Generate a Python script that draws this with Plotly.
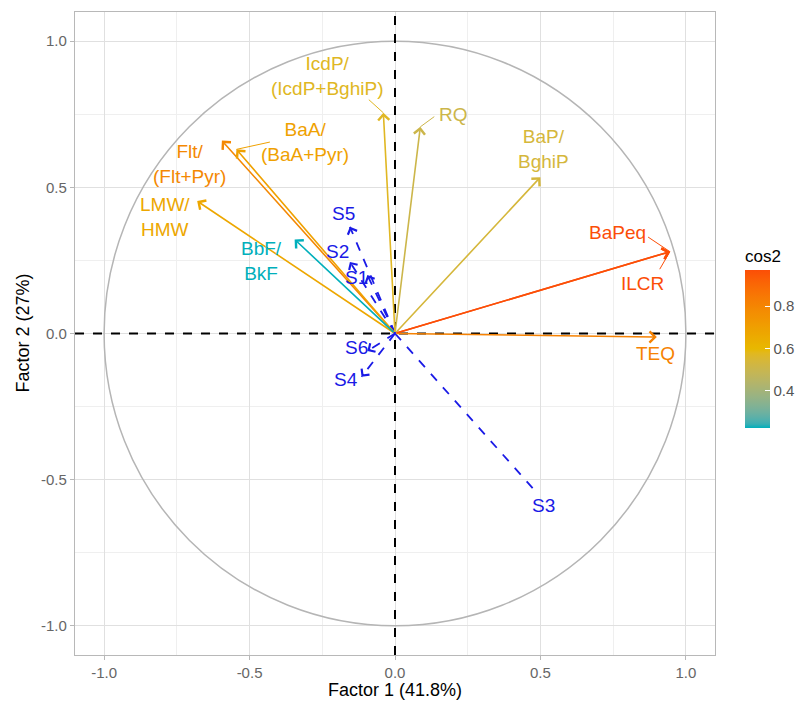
import plotly.graph_objects as go

# ---- data ----
var_names = ["IcdP/<br>(IcdP+BghiP)", "RQ", "BaP/<br>BghiP", "BaPeq", "ILCR", "TEQ",
             "Flt/<br>(Flt+Pyr)", "BaA/<br>(BaA+Pyr)", "LMW/<br>HMW", "BbF/<br>BkF"]
var_x = [-0.04, 0.087, 0.50, 0.945, 0.945, 0.90, -0.595, -0.545, -0.68, -0.345]
var_y = [0.755, 0.707, 0.535, 0.28, 0.28, -0.012, 0.66, 0.63, 0.453, 0.322]

supp_names = ["S1", "S2", "S3", "S4", "S5", "S6"]
supp_x = [-0.095, -0.155, 0.483, -0.115, -0.155, -0.095]
supp_y = [0.20, 0.245, -0.54, -0.148, 0.365, -0.06]

# label positions (layout only)
var_lab_x = [-0.235, 0.20, 0.51, 0.765, 0.85, 0.895, -0.705, -0.31, -0.79, -0.46]
var_lab_y = [0.882, 0.748, 0.63, 0.345, 0.17, -0.068, 0.58, 0.655, 0.40, 0.247]
seg_start_x = [-0.09, 0.135, None, 0.87, 0.91, None, None, -0.43, None, None]
seg_start_y = [0.80, 0.742, None, 0.33, 0.22, None, None, 0.655, None, None]
supp_lab_x = [-0.132, -0.198, 0.51, -0.168, -0.178, -0.132]
supp_lab_y = [0.19, 0.28, -0.59, -0.158, 0.41, -0.048]

grad_cols = ["#00AFBB", "#E7B800", "#FC4E07"]


# ---- Lab interpolation (as ggplot's gradientn does) ----
def _hex2rgb(h):
    h = h.lstrip("#")
    return [int(h[i:i + 2], 16) / 255 for i in (0, 2, 4)]


def _lin(c):
    return c / 12.92 if c <= 0.04045 else ((c + 0.055) / 1.055) ** 2.4


def _delin(c):
    c = max(0.0, min(1.0, c))
    return 12.92 * c if c <= 0.0031308 else 1.055 * c ** (1 / 2.4) - 0.055


WX, WY, WZ = 0.95047, 1.0, 1.08883


def _rgb2lab(rgb):
    r, g, b = [_lin(c) for c in rgb]
    X = 0.4124 * r + 0.3576 * g + 0.1805 * b
    Y = 0.2126 * r + 0.7152 * g + 0.0722 * b
    Z = 0.0193 * r + 0.1192 * g + 0.9505 * b

    def f(t):
        return t ** (1 / 3) if t > 0.008856 else 7.787 * t + 16 / 116
    fx, fy, fz = f(X / WX), f(Y / WY), f(Z / WZ)
    return [116 * fy - 16, 500 * (fx - fy), 200 * (fy - fz)]


def _lab2rgb(lab):
    L, a, b = lab
    fy = (L + 16) / 116
    fx = fy + a / 500
    fz = fy - b / 200

    def fi(t):
        return t ** 3 if t ** 3 > 0.008856 else (t - 16 / 116) / 7.787
    X, Y, Z = WX * fi(fx), WY * fi(fy), WZ * fi(fz)
    r = 3.2406 * X - 1.5372 * Y - 0.4986 * Z
    g = -0.9689 * X + 1.8758 * Y + 0.0415 * Z
    bb = 0.0557 * X - 0.2040 * Y + 1.0570 * Z
    return [_delin(c) for c in (r, g, bb)]


_labs = [_rgb2lab(_hex2rgb(c)) for c in grad_cols]


def lab_color(t):
    t = max(0.0, min(1.0, t))
    seg = min(int(t * (len(_labs) - 1)), len(_labs) - 2)
    u = t * (len(_labs) - 1) - seg
    lab = [a + (b - a) * u for a, b in zip(_labs[seg], _labs[seg + 1])]
    r, g, b = _lab2rgb(lab)
    return "rgb(%d,%d,%d)" % (round(r * 255), round(g * 255), round(b * 255))


cscale = [[i / 40, lab_color(i / 40)] for i in range(41)]

cos2 = [x * x + y * y for x, y in zip(var_x, var_y)]
cmin, cmax = min(cos2), max(cos2)
cols = [lab_color((c - cmin) / (cmax - cmin)) for c in cos2]

FONT = "Liberation Sans, Arial, sans-serif"
BLUE = "#1A1AE6"
PL, PR, PT, PB = 75, 715, 12, 655
W, H = 811, 702

fig = go.Figure()

# unit circle
fig.add_shape(type="circle", xref="x", yref="y", x0=-1, y0=-1, x1=1, y1=1,
              line=dict(color="#B5B5B5", width=1.5), layer="above")
# dashed reference lines
fig.add_hline(y=0, line=dict(color="black", width=2, dash="dash"))
fig.add_vline(x=0, line=dict(color="black", width=2, dash="dash"))

# colour bar (dummy trace)
fig.add_trace(go.Scatter(
    x=[0, 0], y=[0, 0], mode="markers", hoverinfo="skip", showlegend=False,
    marker=dict(size=0.1, opacity=0, color=[cmin, cmax], cmin=cmin, cmax=cmax,
                colorscale=cscale, showscale=True,
                colorbar=dict(title=dict(text="cos2", side="top",
                                         font=dict(size=17, color="black", family=FONT)),
                              x=(745 - PL) / (PR - PL), xanchor="left", xpad=0, ypad=0,
                              y=(PB - 428) / (PB - PT), yanchor="bottom",
                              len=182, lenmode="pixels", thickness=25,
                              outlinewidth=0, tickvals=[0.4, 0.6, 0.8],
                              ticktext=["0.4", "0.6", "0.8"], ticks="inside",
                              ticklen=5, tickcolor="white", tickwidth=1.2,
                              tickfont=dict(size=15, color="#555555", family=FONT)))))

# supplementary dashed lines
sx, sy = [], []
for x, y in zip(supp_x, supp_y):
    sx += [0, x, None]
    sy += [0, y, None]
fig.add_trace(go.Scatter(x=sx, y=sy, mode="lines", hoverinfo="skip", showlegend=False,
                         line=dict(color=BLUE, width=1.8, dash="dash")))

ann = []
# connector segments for repelled labels
for i in range(len(var_names)):
    if seg_start_x[i] is not None:
        fig.add_shape(type="line", xref="x", yref="y", x0=seg_start_x[i], y0=seg_start_y[i],
                      x1=var_x[i], y1=var_y[i], line=dict(color=cols[i], width=1))

# active variable arrows
for i in range(len(var_names)):
    ann.append(dict(x=var_x[i], y=var_y[i], ax=0, ay=0, xref="x", yref="y",
                    axref="x", ayref="y", text="", showarrow=True, arrowhead=4,
                    arrowsize=1.35, arrowwidth=1.6, arrowcolor=cols[i], standoff=0))
    ann.append(dict(x=var_lab_x[i], y=var_lab_y[i], xref="x", yref="y",
                    text=var_names[i], showarrow=False,
                    font=dict(size=19, color=cols[i], family=FONT)))

# supplementary arrowheads and labels
for i in range(len(supp_names)):
    x, y = supp_x[i], supp_y[i]
    n = (x * x + y * y) ** 0.5
    ux, uy = x / n, y / n
    ann.append(dict(x=x, y=y, xref="x", yref="y", ax=-ux * 5, ay=uy * 5,
                    text="", showarrow=True, arrowhead=4, arrowsize=1.2,
                    arrowwidth=1.6, arrowcolor=BLUE, standoff=0))
    ann.append(dict(x=supp_lab_x[i], y=supp_lab_y[i], xref="x", yref="y",
                    text=supp_names[i], showarrow=False,
                    font=dict(size=19, color=BLUE, family=FONT)))

# axis titles
ann.append(dict(x=0.5, y=(PB - 690) / (PB - PT), xref="paper", yref="paper",
                yanchor="middle", text="Factor 1 (41.8%)", showarrow=False,
                font=dict(size=18, color="black", family=FONT)))
ann.append(dict(x=(22 - PL) / (PR - PL), y=0.5, xref="paper", yref="paper",
                xanchor="center", text="Factor 2 (27%)", textangle=-90,
                showarrow=False, font=dict(size=18, color="black", family=FONT)))

fig.update_layout(
    annotations=ann,
    width=W, height=H,
    margin=dict(l=PL, r=W - PR, t=PT, b=H - PB, autoexpand=False),
    paper_bgcolor="white", plot_bgcolor="white",
    font=dict(family=FONT),
    showlegend=False,
)
axis_common = dict(
    range=[-1.1, 1.1], tickvals=[-1, -0.5, 0, 0.5, 1],
    ticktext=["-1.0", "-0.5", "0.0", "0.5", "1.0"],
    showgrid=True, gridcolor="#E0E0E0", gridwidth=1.2,
    minor=dict(dtick=0.25, tick0=0, showgrid=True, gridcolor="#EFEFEF", gridwidth=0.8),
    zeroline=False, showline=True, linecolor="#B8B8B8", linewidth=1.2, mirror=True,
    ticks="outside", ticklen=4, tickcolor="#B8B8B8", tickwidth=1.2, automargin=False,
    tickfont=dict(size=15, color="#666666", family=FONT),
)
fig.update_xaxes(**axis_common)
fig.update_yaxes(**axis_common)

fig.write_html("out.html")
